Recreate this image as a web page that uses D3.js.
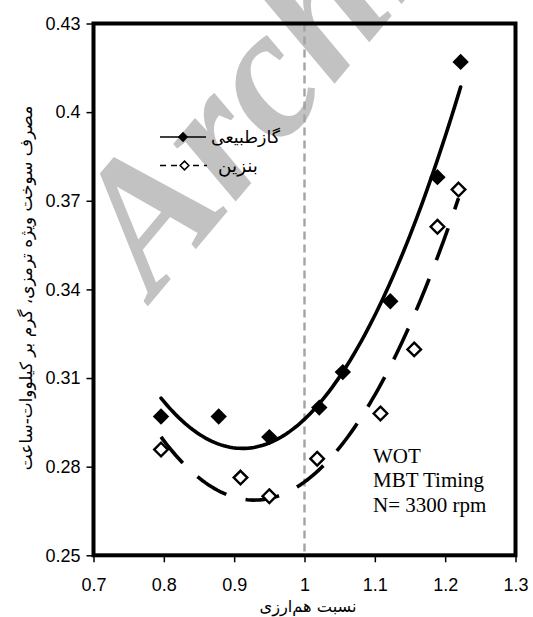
<!DOCTYPE html>
<html>
<head>
<meta charset="utf-8">
<script src="https://cdn.jsdelivr.net/npm/d3@7"></script>
<style>
  html, body { margin: 0; padding: 0; background: #fff; }
  svg { display: block; }
</style>
</head>
<body>
<svg id="chart" width="533" height="617"></svg>
<script>
// Equivalence ratio (phi) and brake specific fuel consumption (kg/kWh)
const phiNG   = [0.796, 0.878, 0.950, 1.021, 1.0545, 1.122, 1.189, 1.222];
const bsfcNG  = [0.297, 0.297, 0.290, 0.300, 0.312, 0.336, 0.378, 0.417];
const phiGas  = [0.796, 0.909, 0.950, 1.018, 1.108, 1.156, 1.189, 1.219];
const bsfcGas = [0.2858, 0.2763, 0.270, 0.2827, 0.298, 0.3197, 0.3612, 0.3738];

const xTicks = [0.7, 0.8, 0.9, 1.0, 1.1, 1.2, 1.3];
const yTicks = [0.25, 0.28, 0.31, 0.34, 0.37, 0.40, 0.43];
const seriesNames = ["گازطبیعی", "بنزین"];
const xTitle = "نسبت هم\u200Cارزی";
const yTitle = "مصرف سوخت ویژه ترمزی، گرم بر کیلووات-ساعت";
const noteLines = ["WOT", "MBT Timing", "N= 3300 rpm"];

const svg = d3.select("#chart");
const plotL = 93.5, plotR = 515.5, plotT = 23.5, plotB = 555.3;

const x = d3.scaleLinear().domain([0.7, 1.3]).range([plotL, plotR]);
const y = d3.scaleLinear().domain([0.25, 0.43]).range([plotB, plotT]);

// Least-squares polynomial trendline (degree 2)
function polyfit(xs, ys, deg) {
  const n = deg + 1;
  const A = Array.from({length: n}, () => new Array(n + 1).fill(0));
  xs.forEach((xv, k) => {
    for (let i = 0; i < n; i++) {
      for (let j = 0; j < n; j++) A[i][j] += Math.pow(xv, i + j);
      A[i][n] += ys[k] * Math.pow(xv, i);
    }
  });
  for (let c = 0; c < n; c++) {
    let p = c;
    for (let r = c + 1; r < n; r++) if (Math.abs(A[r][c]) > Math.abs(A[p][c])) p = r;
    [A[c], A[p]] = [A[p], A[c]];
    for (let r = 0; r < n; r++) {
      if (r === c) continue;
      const f = A[r][c] / A[c][c];
      for (let k = c; k <= n; k++) A[r][k] -= f * A[c][k];
    }
  }
  return A.map((row, i) => row[n] / row[i]);
}
function trend(xs, ys) {
  const coef = polyfit(xs, ys, 2);
  const x0 = d3.min(xs), x1 = d3.max(xs);
  return d3.range(0, 101).map(i => {
    const xv = x0 + (x1 - x0) * i / 100;
    return [xv, coef.reduce((s, c, k) => s + c * Math.pow(xv, k), 0)];
  });
}

// Shrink/grow a text so that it spans the given width
function fitWidth(sel, width, base) {
  sel.attr("font-size", base);
  const w = sel.node().getComputedTextLength();
  if (w > 0) sel.attr("font-size", base * width / w);
  return sel;
}

// Watermark behind the plot
svg.append("text")
  .attr("transform", "translate(154,299) rotate(-50)")
  .attr("font-family", "'Liberation Serif', serif")
  .attr("font-weight", "bold")
  .attr("font-style", "italic")
  .attr("font-size", 185)
  .attr("fill", "#c2c2c2")
  .text("Archive");

// Stoichiometric reference line
svg.append("line")
  .attr("x1", x(1)).attr("x2", x(1))
  .attr("y1", plotT).attr("y2", plotB)
  .attr("stroke", "#a3a3a3").attr("stroke-width", 2.4)
  .attr("stroke-dasharray", "8,5");

const line = d3.line().x(d => x(d[0])).y(d => y(d[1]));

svg.append("path")
  .attr("d", line(trend(phiNG, bsfcNG)))
  .attr("fill", "none").attr("stroke", "#000")
  .attr("stroke-width", 3.6).attr("stroke-linecap", "round");

svg.append("path")
  .attr("d", line(trend(phiGas, bsfcGas)))
  .attr("fill", "none").attr("stroke", "#000")
  .attr("stroke-width", 3.6).attr("stroke-dasharray", "34,20");

const diamond = h => `M0,${-h}L${h},0L0,${h}L${-h},0Z`;

svg.append("g").selectAll("path")
  .data(d3.zip(phiNG, bsfcNG))
  .join("path")
  .attr("transform", d => `translate(${x(d[0])},${y(d[1])})`)
  .attr("d", diamond(8.2))
  .attr("fill", "#000");

svg.append("g").selectAll("path")
  .data(d3.zip(phiGas, bsfcGas))
  .join("path")
  .attr("transform", d => `translate(${x(d[0])},${y(d[1])})`)
  .attr("d", diamond(6.8))
  .attr("fill", "#fff").attr("stroke", "#000").attr("stroke-width", 2.4);

// Frame
svg.append("rect")
  .attr("x", plotL).attr("y", plotT)
  .attr("width", plotR - plotL).attr("height", plotB - plotT)
  .attr("fill", "none").attr("stroke", "#000").attr("stroke-width", 4);

// Axes
const xAxis = d3.axisBottom(x).tickValues(xTicks)
  .tickFormat(d => String(+d.toFixed(1))).tickSizeOuter(0).tickSizeInner(7).tickPadding(16);
const yAxis = d3.axisLeft(y).tickValues(yTicks)
  .tickFormat(d => String(+d.toFixed(2))).tickSizeOuter(0).tickSizeInner(7).tickPadding(6);

const gx = svg.append("g").attr("transform", `translate(0,${plotB})`).call(xAxis);
const gy = svg.append("g").attr("transform", `translate(${plotL},0)`).call(yAxis);
[gx, gy].forEach(g => {
  g.select(".domain").remove();
  g.selectAll(".tick line").attr("stroke", "#000").attr("stroke-width", 1.5);
  g.selectAll(".tick text")
    .attr("font-family", "'Liberation Sans', Arial, sans-serif")
    .attr("font-size", 18).attr("fill", "#000");
});

// Axis titles
const xt = svg.append("text")
  .attr("x", 308).attr("y", 612)
  .attr("text-anchor", "middle")
  .attr("font-family", "'DejaVu Sans', sans-serif")
  .text(xTitle);
fitWidth(xt, 97, 16);

const yt = svg.append("text")
  .attr("transform", "translate(32,288) rotate(-90)")
  .attr("text-anchor", "middle")
  .attr("font-family", "'DejaVu Sans', sans-serif")
  .text(yTitle);
fitWidth(yt, 365, 16);

// Legend
const lg = svg.append("g");
lg.append("line").attr("x1", 160).attr("x2", 206).attr("y1", 137).attr("y2", 137)
  .attr("stroke", "#000").attr("stroke-width", 1.5);
lg.append("path").attr("transform", "translate(183,137)").attr("d", diamond(5.2)).attr("fill", "#000");
lg.append("line").attr("x1", 160).attr("x2", 207).attr("y1", 165.5).attr("y2", 165.5)
  .attr("stroke", "#000").attr("stroke-width", 1.5).attr("stroke-dasharray", "6,5");
lg.append("path").attr("transform", "translate(184.5,165.5)").attr("d", diamond(4.4))
  .attr("fill", "#fff").attr("stroke", "#000").attr("stroke-width", 1.5);
const widths = [69, 40];
lg.selectAll("text").data(seriesNames).join("text")
  .attr("x", (d, i) => i === 0 ? 211 : 218)
  .attr("y", (d, i) => i === 0 ? 143 : 172)
  .attr("font-family", "'DejaVu Sans', sans-serif")
  .text(d => d)
  .each(function(d, i) { fitWidth(d3.select(this), widths[i], 16); });

// Test conditions
svg.append("g").selectAll("text").data(noteLines).join("text")
  .attr("x", 373).attr("y", (d, i) => 463 + i * 24.3)
  .attr("font-family", "'Liberation Serif', 'Times New Roman', serif")
  .attr("font-size", 21)
  .text(d => d);
</script>
</body>
</html>
